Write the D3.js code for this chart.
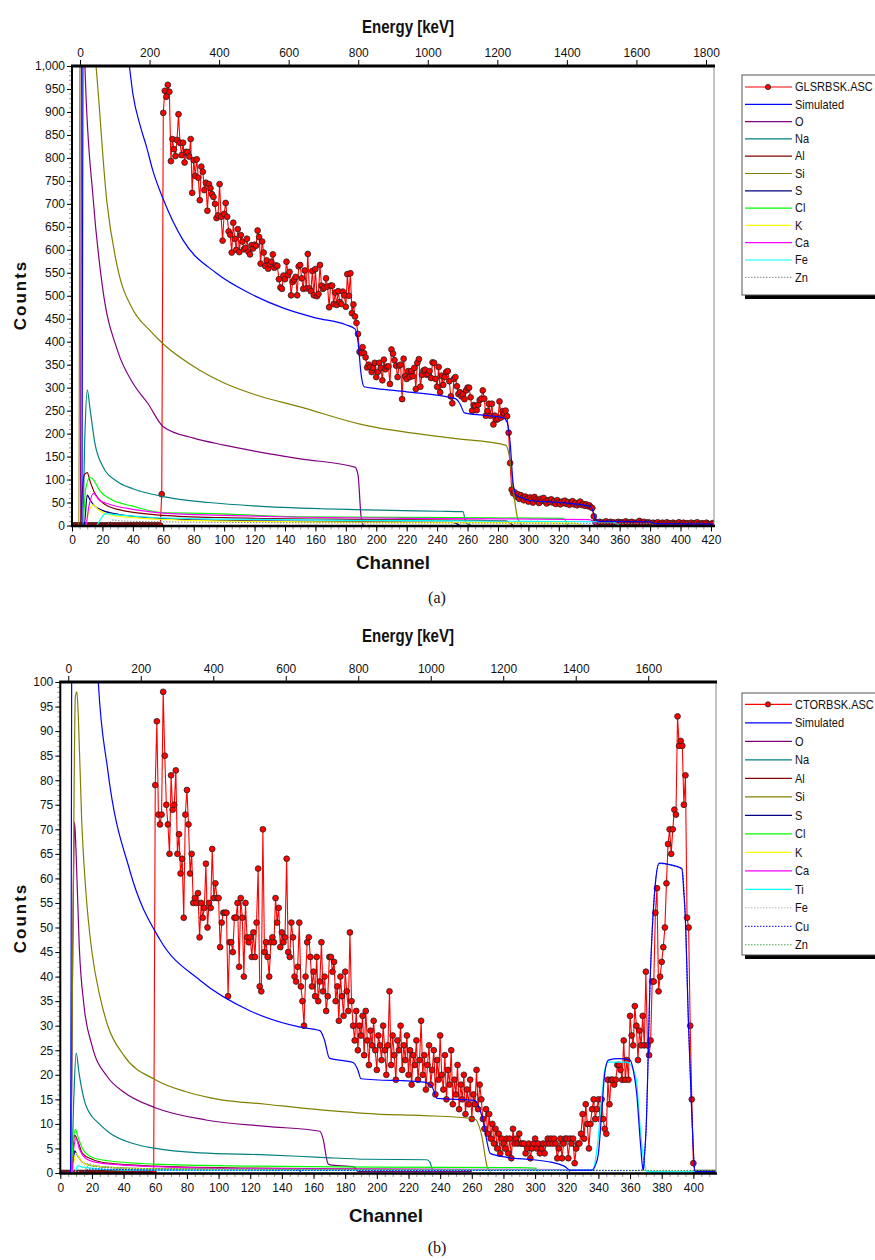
<!doctype html>
<html lang="en">
<head>
<meta charset="utf-8">
<title>RBS spectra - D3</title>
<style>
  body { margin: 0; background: #fff; }
  svg { display: block; }
  text { font-family: "Liberation Sans", Arial, sans-serif; fill: #111; }
</style>
</head>
<body>
<svg id="chart"></svg>
<script src="https://cdn.jsdelivr.net/npm/d3@7/dist/d3.min.js"></script>
<script>
// ---------- panel (a): GLSRBSK.ASC, counts per channel 0..422 ----------
var countsA = [
  0, 0, 0, 0, 0, 0, 0, 0, 0, 0,
  0, 0, 0, 0, 0, 0, 0, 0, 0, 0,
  0, 0, 0, 0, 0, 0, 0, 0, 0, 0,
  0, 0, 0, 0, 0, 0, 0, 0, 0, 0,
  0, 0, 0, 0, 0, 0, 0, 0, 0, 0,
  0, 0, 0, 0, 0, 0, 0, 0, 0, 68,
  898, 946, 933, 959, 944, 793, 841, 819, 804, 839,
  895, 833, 806, 833, 790, 813, 813, 803, 841, 724,
  795, 761, 797, 757, 708, 781, 770, 730, 746, 685,
  743, 734, 721, 715, 700, 669, 675, 743, 672, 620,
  678, 702, 672, 640, 633, 594, 659, 624, 600, 645,
  595, 632, 618, 601, 604, 624, 596, 590, 610, 603,
  611, 609, 642, 628, 570, 618, 594, 565, 577, 559,
  568, 574, 590, 561, 566, 565, 536, 518, 515, 544,
  536, 574, 545, 552, 501, 530, 535, 541, 501, 564,
  567, 538, 515, 555, 516, 591, 516, 510, 554, 501,
  558, 499, 504, 567, 522, 515, 518, 538, 520, 475,
  522, 522, 482, 507, 480, 510, 486, 482, 509, 501,
  476, 547, 500, 549, 462, 481, 455, 441, 417, 378,
  375, 388, 375, 366, 344, 350, 345, 334, 343, 354,
  323, 334, 354, 343, 316, 361, 340, 346, 346, 308,
  383, 374, 360, 348, 323, 348, 350, 275, 363, 325,
  319, 336, 323, 336, 325, 343, 297, 354, 362, 302,
  328, 337, 339, 328, 330, 336, 321, 355, 354, 319,
  302, 345, 290, 326, 306, 323, 334, 336, 314, 281,
  266, 319, 323, 303, 286, 290, 281, 286, 275, 294,
  300, 300, 279, 250, 262, 260, 251, 263, 273, 276,
  294, 276, 239, 249, 265, 239, 265, 220, 239, 230,
  232, 270, 235, 249, 244, 250, 238, 202, 136, 78,
  70, 72, 63, 68, 58, 66, 60, 55, 63, 58,
  52, 61, 56, 50, 62, 57, 53, 49, 58, 54,
  60, 52, 48, 55, 51, 57, 50, 53, 47, 55,
  50, 46, 52, 49, 54, 47, 51, 45, 50, 53,
  46, 49, 44, 48, 52, 45, 47, 43, 46, 42,
  44, 40, 38, 20, 8, 7, 5, 8, 6, 4,
  7, 9, 5, 6, 8, 5, 7, 4, 6, 8,
  5, 7, 6, 4, 9, 6, 5, 7, 8, 4,
  6, 5, 7, 10, 6, 5, 8, 4, 6, 7,
  5, 3, 6, 4, 5, 7, 3, 4, 6, 5,
  3, 7, 4, 5, 3, 6, 4, 2, 5, 7,
  3, 4, 6, 3, 5, 4, 2, 6, 3, 5,
  4, 7, 3, 2, 5, 4, 3, 6, 4, 2,
  3, 5, 4
];

// simulated and element curves of (a): [channel, counts]
var simA = [[0, 0], [6.5, 0], [7, 700], [7.5, 1400], [30, 1200], [37.7, 1000], [40, 940], [45, 868], [49, 824], [53, 774],
  [60, 710], [73, 621], [95, 549], [117, 505], [139, 473], [160, 452], [180, 437], [186, 428], [188, 400], [190, 330],
  [192, 302], [200, 298], [220, 291], [252, 276], [255, 265], [258, 245], [270, 240], [283, 235], [286, 225], [288, 180],
  [290, 90], [292, 66], [296, 60], [300, 55], [320, 50], [340, 42], [342, 36], [344, 15], [346, 9], [380, 8], [383, 4], [422, 3]];
var oA = [[0, 0], [5.5, 0], [6.5, 1300], [8.5, 1000], [14, 708], [20, 520], [30, 380], [40, 310], [50, 265], [60, 215],
  [80, 190], [100, 175], [120, 162], [150, 145], [186, 127], [188, 110], [190, 20], [191.5, 0]];
var naA = [[0, 0], [7, 0], [8.5, 200], [10, 295], [12, 250], [15, 180], [20, 130], [30, 95], [40, 80], [60, 63],
  [90, 50], [128, 41], [194, 34], [242, 31], [257, 30], [259, 5], [262, 2]];
var alA = [[0, 0], [5.5, 0], [6.5, 60], [8, 110], [10, 115], [12, 95], [15, 70], [20, 50], [30, 35], [60, 22],
  [100, 17], [200, 13], [270, 11], [285, 10], [290, 0]];
var siA = [[0, 0], [4.5, 0], [5.5, 1300], [15.8, 1000], [22.8, 708], [30, 560], [40, 470], [51, 425], [60, 395], [84, 338],
  [100, 310], [120, 285], [150, 258], [190, 220], [250, 190], [285, 175], [288, 140], [290, 80], [293, 15], [296, 0]];
var sA = [[0, 0], [8, 0], [10, 66], [12, 55], [15, 42], [20, 33], [31, 24], [60, 15], [100, 11], [200, 8], [250, 7], [255, 0]];
var clA = [[0, 0], [7, 0], [9, 80], [12, 105], [15, 95], [18, 77], [25, 58], [40, 42], [60, 28], [86, 26.5],
  [150, 19], [250, 17], [323, 15.6], [326, 0]];
var kA = [[0, 0], [9, 0], [11, 30], [14, 45], [17, 35], [22, 26], [40, 17], [80, 11], [150, 8], [300, 6], [330, 5], [335, 0]];
var caA = [[0, 0], [9, 0], [11, 40], [14, 70], [18, 55], [23, 48], [40, 35], [60, 27], [100, 22], [150, 18], [250, 15],
  [340, 13], [345, 0]];
var feA = [[0, 0], [16, 0], [19, 15], [22, 26], [30, 23], [50, 18], [100, 14], [200, 11], [300, 9], [355, 8], [360, 0]];
var znA = [[0, 0], [22, 0], [27, 12], [32, 10], [60, 8], [150, 6], [300, 5], [380, 4], [385, 0]];

var legendA = ['GLSRBSK.ASC', 'Simulated', 'O', 'Na', 'Al', 'Si', 'S', 'Cl', 'K', 'Ca', 'Fe', 'Zn'];

// ---------- panel (b): CTORBSK.ASC, counts per channel 0..414 ----------
var countsB = [
  0, 0, 0, 0, 0, 0, 0, 0, 0, 0,
  0, 0, 0, 0, 0, 0, 0, 0, 0, 0,
  0, 0, 0, 0, 0, 0, 0, 0, 0, 0,
  0, 0, 0, 0, 0, 0, 0, 0, 0, 0,
  0, 0, 0, 0, 0, 0, 0, 0, 0, 0,
  0, 0, 0, 0, 0, 0, 0, 0, 0, 0,
  79, 92, 73, 71, 73, 98, 85, 75, 71, 65,
  81, 74, 75, 82, 65, 69, 61, 64, 52, 73,
  78, 71, 61, 65, 55, 56, 55, 57, 48, 55,
  52, 54, 63, 50, 55, 54, 66, 56, 59, 56,
  56, 46, 51, 53, 53, 53, 36, 47, 47, 45,
  52, 52, 55, 42, 56, 52, 40, 55, 48, 47,
  48, 44, 49, 44, 51, 62, 38, 37, 70, 45,
  47, 44, 40, 47, 48, 47, 56, 51, 54, 46,
  49, 47, 48, 64, 45, 44, 51, 48, 40, 39,
  42, 51, 38, 35, 30, 40, 47, 48, 44, 38,
  41, 36, 44, 35, 39, 47, 37, 40, 33, 36,
  44, 44, 41, 43, 35, 38, 31, 40, 36, 32,
  41, 37, 33, 49, 35, 30, 27, 33, 25, 30,
  28, 32, 24, 33, 27, 22, 29, 26, 31, 25,
  21, 28, 26, 23, 30, 25, 20, 26, 37, 22,
  28, 24, 19, 27, 25, 30, 21, 26, 23, 28,
  20, 25, 18, 24, 22, 27, 19, 23, 31, 20,
  24, 17, 22, 26, 18, 21, 25, 16, 23, 19,
  28, 20, 17, 24, 15, 21, 18, 25, 14, 19,
  16, 22, 13, 18, 15, 20, 12, 17, 14, 19,
  11, 16, 14, 21, 13, 18, 15, 11, 9, 13,
  8, 12, 7, 10, 6, 9, 5, 8, 4, 7,
  6, 5, 7, 4, 7, 3, 9, 6, 7, 6,
  8, 6, 6, 6, 4, 5, 6, 3, 5, 6,
  7, 5, 6, 4, 5, 6, 4, 6, 7, 6,
  7, 6, 7, 6, 3, 5, 7, 3, 6, 7,
  7, 3, 7, 6, 7, 2, 5, 6, 6, 8,
  12, 7, 14, 10, 5, 10, 13, 15, 11, 13,
  15, 11, 15, 11, 9, 8, 19, 14, 19, 19,
  18, 19, 22, 22, 21, 19, 27, 19, 23, 19,
  32, 28, 26, 34, 30, 23, 29, 26, 32, 26,
  41, 26, 24, 27, 39, 39, 53, 58, 37, 40,
  43, 46, 50, 59, 67, 70, 65, 70, 74, 73,
  93, 87, 88, 87, 75, 81, 52, 50, 30, 15,
  2, 0, 0, 0, 0, 0, 0, 0, 0, 0,
  0, 0, 0, 0, 0
];

var simB = [[0, 0], [6.5, 0], [7, 70], [7.5, 140], [20, 130], [24, 100], [30, 82], [44, 61.5], [63, 47.5], [88, 39.3],
  [120, 33], [151.6, 29.7], [164, 29], [167, 27], [170, 23.4], [185, 22.5], [188, 21], [190, 19.2], [230, 18.5], [235, 17.5],
  [238, 15.2], [262, 14.8], [265, 13], [267.3, 10.5], [269.4, 6.7], [271.6, 4], [282, 3.2], [299, 2.7], [310, 2.2], [318.9, 1.3],
  [322, 0.6], [336, 0.6], [338, 1.5], [340, 4], [342, 12], [344, 20.3], [346.3, 23], [352.7, 23.3], [360, 23], [362, 21],
  [364.2, 16.2], [366.4, 6.7], [368, 1], [368.5, 0.6], [369, 3], [370.1, 8.7], [372.7, 39.3], [375.8, 58.3], [378.4, 63.1],
  [385, 62.8], [392.7, 62], [394, 57], [394.8, 52.9], [396.9, 30.5], [399, 12.1], [401.1, 0.3], [414, 0.3]];
var oB = [[0, 0], [6.5, 0], [8, 50], [9, 71.5], [10, 65], [12, 46], [15, 34], [20, 26], [30, 19.5], [40, 16.5], [60, 13.3],
  [92, 10.8], [130, 9.5], [164, 8.5], [166, 7], [169, 2], [170, 1.7], [186, 1.2], [188, 0.3], [260, 0.3]];
var naB = [[0, 0], [7, 0], [8.5, 15], [10, 24.4], [12, 20], [15, 15], [20, 11.5], [23, 10.5], [31.4, 8.1], [46, 6], [60, 5],
  [88, 4.1], [130, 3.7], [164, 3.2], [194, 2.8], [231.5, 2.7], [233.5, 2.2], [235, 0.8], [236, 0.3]];
var alB = [[0, 0], [7, 0], [8, 5], [9, 7.7], [11, 6.5], [14, 4], [20, 2.8], [30, 2], [60, 1.4], [120, 1], [200, 0.8], [260, 0.7]];
var siB = [[0, 0], [6.5, 0], [8, 50], [9.5, 97], [10.5, 98], [11.5, 92], [13.5, 72], [16, 58], [20, 45], [25, 36], [30, 30],
  [40, 24], [60, 19], [80, 16.5], [100, 15], [130, 14], [160, 13], [200, 12], [230, 11.7], [262, 11], [266, 8], [270, 1], [272, 0.3]];
var sB = [[0, 0], [7, 0], [8.5, 3], [9, 4.5], [11, 3.5], [14, 2.2], [20, 1.5], [40, 1], [80, 0.8], [150, 0.7], [152, 0.3]];
var clB = [[0, 0], [7, 0], [8, 6], [9.5, 8.9], [11, 7.5], [14, 5], [20, 3.2], [30, 2.5], [60, 1.8], [120, 1.4], [200, 1.2],
  [290, 1.1], [300, 1], [302, 0.3]];
var kB = [[0, 0], [7.5, 0], [9, 3], [10, 4], [12, 3], [15, 2], [20, 1.5], [40, 1], [80, 0.8], [120, 0.7], [150, 0.6]];
var caB = [[0, 0], [7.5, 0], [8.5, 5], [10, 7.1], [12, 5], [16, 3], [22, 2.2], [40, 1.6], [60, 1.3], [117, 0.9], [200, 0.8],
  [320, 0.7], [322, 0.3]];
var tiB = [[0, 0], [9, 0], [11, 1.5], [14, 1.2], [40, 0.6], [336, 0.6], [337, 1], [339.5, 6], [342, 15], [344, 21], [346, 22.6],
  [358, 22.6], [362, 21], [364, 18.9], [366, 10.8], [368, 4], [371, 0.3], [414, 0.3]];
var feB = [[0, 0], [10, 0], [14, 1.2], [18, 2], [22, 1.6], [40, 1], [100, 0.8], [300, 0.6], [414, 0.4]];
var cuB = [[0, 0], [14, 0], [18, 0.8], [60, 0.6], [360, 0.5], [368, 0.6], [369, 3], [370.1, 8.7], [372.7, 39.3], [375.8, 58.3],
  [378.4, 63], [392.7, 62], [394.8, 52.9], [396.9, 30.5], [399, 12.1], [401.1, 0.3], [414, 0.2]];
var znB = [[0, 0], [14, 0], [18, 1.5], [25, 1.2], [60, 0.9], [200, 0.7], [414, 0.5]];

var legendB = ['CTORBSK.ASC', 'Simulated', 'O', 'Na', 'Al', 'Si', 'S', 'Cl', 'K', 'Ca', 'Ti', 'Fe', 'Cu', 'Zn'];

// ---------- drawing ----------
var W = 875, H = 1260;
var svg = d3.select('#chart').attr('width', W).attr('height', H);

var colors = {
  data: '#ff0000', sim: '#0000ff', O: '#800080', Na: '#008080', Al: '#800000', Si: '#808000',
  S: '#000080', Cl: '#00ff00', K: '#ffff00', Ca: '#ff00ff', Fe: '#00ffff', Ti: '#00ffff'
};

var panels = [
  {
    id: 'a', left: 72, right: 714, top: 66, bottom: 525.5,
    chMax: 422, yMax: 1000, eMin: -23, eMax: 1823, eMaxTick: 1800,
    yMajor: 50, yMinor: 10, yFormat: d3.format(','),
    counts: countsA, sim: simA,
    curves: [
      { name: 'O', data: oA, color: colors.O },
      { name: 'Na', data: naA, color: colors.Na },
      { name: 'Al', data: alA, color: colors.Al },
      { name: 'Si', data: siA, color: colors.Si },
      { name: 'S', data: sA, color: colors.S },
      { name: 'Cl', data: clA, color: colors.Cl },
      { name: 'K', data: kA, color: colors.K },
      { name: 'Ca', data: caA, color: colors.Ca },
      { name: 'Fe', data: feA, color: colors.Fe },
      { name: 'Zn', data: znA, color: '#808080', dash: '1.5,1.5' }
    ],
    legend: legendA, legTop: 75, legRow: 17.3, legFirst: 87, legBottom: 295,
    titleY: 33, chanX: 393, chanY: 569, countsY: 295, tagY: 603, tag: '(a)'
  },
  {
    id: 'b', left: 60.3, right: 716, top: 682, bottom: 1173,
    chMax: 414.3, yMax: 100, eMin: -22, eMax: 1787, eMaxTick: 1600,
    yMajor: 5, yMinor: 1, yFormat: d3.format('d'),
    counts: countsB, sim: simB,
    curves: [
      { name: 'O', data: oB, color: colors.O },
      { name: 'Na', data: naB, color: colors.Na },
      { name: 'Al', data: alB, color: colors.Al },
      { name: 'Si', data: siB, color: colors.Si },
      { name: 'S', data: sB, color: colors.S },
      { name: 'Cl', data: clB, color: colors.Cl },
      { name: 'K', data: kB, color: colors.K },
      { name: 'Ca', data: caB, color: colors.Ca },
      { name: 'Ti', data: tiB, color: colors.Ti },
      { name: 'Fe', data: feB, color: '#b8b8b8', dash: '1.5,1.5' },
      { name: 'Cu', data: cuB, color: '#0000ff', dash: '1.5,1.5' },
      { name: 'Zn', data: znB, color: '#449944', dash: '1.5,1.5' }
    ],
    legend: legendB, legTop: 693, legRow: 18.5, legFirst: 704.3, legBottom: 955,
    titleY: 642, chanX: 386, chanY: 1222, countsY: 918, tagY: 1253, tag: '(b)'
  }
];

panels.forEach(drawPanel);

function drawPanel(p) {
  var x = d3.scaleLinear().domain([0, p.chMax]).range([p.left, p.right]);
  var y = d3.scaleLinear().domain([0, p.yMax]).range([p.bottom, p.top]);
  var e = d3.scaleLinear().domain([p.eMin, p.eMax]).range([p.left, p.right]);

  var clipId = 'clip-' + p.id;
  svg.append('clipPath').attr('id', clipId)
    .append('rect')
    .attr('x', p.left).attr('y', p.top)
    .attr('width', p.right - p.left).attr('height', p.bottom - p.top);

  var plot = svg.append('g').attr('clip-path', 'url(#' + clipId + ')');
  var line = d3.line().x(function (d) { return x(d[0]); }).y(function (d) { return y(d[1]); });
  var smooth = d3.line().curve(d3.curveMonotoneX)
    .x(function (d) { return x(d[0]); }).y(function (d) { return y(d[1]); });

  // measured spectrum
  var pts = p.counts.map(function (c, i) { return [i, c]; });
  plot.append('path').datum(pts)
    .attr('fill', 'none').attr('stroke', colors.data).attr('stroke-width', 1.1)
    .attr('d', line);
  plot.selectAll('circle.pt').data(pts).enter()
    .append('circle').attr('class', 'pt')
    .attr('cx', function (d) { return x(d[0]); })
    .attr('cy', function (d) { return y(d[1]); })
    .attr('r', 2.9)
    .attr('fill', '#ff0000').attr('stroke', '#222').attr('stroke-width', 0.8);

  // element contributions
  p.curves.forEach(function (cv) {
    plot.append('path').datum(cv.data)
      .attr('fill', 'none').attr('stroke', cv.color)
      .attr('stroke-width', cv.dash ? 1 : 1.2)
      .attr('stroke-dasharray', cv.dash || null)
      .attr('d', smooth);
  });

  // simulated
  plot.append('path').datum(p.sim)
    .attr('fill', 'none').attr('stroke', colors.sim).attr('stroke-width', 1.2)
    .attr('d', smooth);

  // axes: minor ticks
  svg.append('g').attr('transform', 'translate(' + p.left + ',0)')
    .call(d3.axisLeft(y).tickValues(d3.range(0, p.yMax + 0.001, p.yMinor)).tickSize(3).tickFormat(''))
    .call(styleMinor);
  svg.append('g').attr('transform', 'translate(0,' + p.bottom + ')')
    .call(d3.axisBottom(x).tickValues(d3.range(0, p.chMax, 5)).tickSize(4).tickFormat(''))
    .call(styleMinor);

  // major ticks
  svg.append('g').attr('transform', 'translate(' + p.left + ',0)')
    .call(d3.axisLeft(y).tickValues(d3.range(0, p.yMax + 0.001, p.yMajor)).tickSize(5).tickPadding(2).tickFormat(p.yFormat))
    .call(styleMajor);
  svg.append('g').attr('transform', 'translate(0,' + p.bottom + ')')
    .call(d3.axisBottom(x).tickValues(d3.range(0, p.chMax, 20)).tickSize(6).tickPadding(4).tickFormat(d3.format('d')))
    .call(styleMajor);
  svg.append('g').attr('transform', 'translate(0,' + p.top + ')')
    .call(d3.axisTop(e).tickValues(d3.range(0, p.eMaxTick + 1, 200)).tickSize(6).tickPadding(3).tickFormat(d3.format('d')))
    .call(styleMajor);

  // frame
  svg.append('line').attr('x1', p.right).attr('x2', p.right).attr('y1', p.top).attr('y2', p.bottom)
    .attr('stroke', '#888').attr('stroke-width', 1);
  svg.append('line').attr('x1', p.left).attr('x2', p.left).attr('y1', p.top - 1).attr('y2', p.bottom + 1)
    .attr('stroke', '#000').attr('stroke-width', 2);
  svg.append('line').attr('x1', p.left - 1).attr('x2', p.right + 1).attr('y1', p.top).attr('y2', p.top)
    .attr('stroke', '#000').attr('stroke-width', 2.8);
  svg.append('line').attr('x1', p.left - 1).attr('x2', p.right + 1).attr('y1', p.bottom + 0.5).attr('y2', p.bottom + 0.5)
    .attr('stroke', '#000').attr('stroke-width', 2.6);

  // titles
  svg.append('text').attr('x', 408).attr('y', p.titleY)
    .attr('text-anchor', 'middle').attr('font-size', 19).attr('font-weight', 'bold')
    .attr('textLength', 92).attr('lengthAdjust', 'spacingAndGlyphs')
    .text('Energy [keV]');
  svg.append('text').attr('x', p.chanX).attr('y', p.chanY)
    .attr('text-anchor', 'middle').attr('font-size', 19).attr('font-weight', 'bold')
    .attr('textLength', 74).attr('lengthAdjust', 'spacingAndGlyphs')
    .text('Channel');
  svg.append('text').attr('transform', 'translate(26,' + p.countsY + ') rotate(-90)')
    .attr('text-anchor', 'middle').attr('font-size', 17).attr('font-weight', 'bold')
    .attr('letter-spacing', 2)
    .text('Counts');
  svg.append('text').attr('x', 437).attr('y', p.tagY)
    .attr('text-anchor', 'middle').attr('font-size', 16)
    .style('font-family', '"Liberation Serif", "Times New Roman", serif')
    .text(p.tag);

  drawLegend(p);
}

function styleMinor(g) {
  g.select('.domain').remove();
  g.selectAll('line').attr('stroke', '#999');
}

function styleMajor(g) {
  g.select('.domain').remove();
  g.selectAll('line').attr('stroke', '#000');
  g.selectAll('text').attr('font-size', 12)
    .attr('font-family', '"Liberation Sans", Arial, sans-serif').attr('fill', '#222');
}

function drawLegend(p) {
  var lg = svg.append('g');
  var x0 = 742, x1 = 878;
  lg.append('rect').attr('x', x0 + 3).attr('y', p.legBottom).attr('width', x1 - x0).attr('height', 4).attr('fill', '#000');
  lg.append('rect').attr('x', x0).attr('y', p.legTop).attr('width', x1 - x0).attr('height', p.legBottom - p.legTop)
    .attr('fill', '#fff').attr('stroke', '#555').attr('stroke-width', 1);

  var styles = [{ color: colors.data, marker: true }, { color: colors.sim }];
  p.curves.forEach(function (cv) { styles.push(cv); });

  p.legend.forEach(function (name, i) {
    var yy = p.legFirst + i * p.legRow;
    var st = styles[i];
    lg.append('line').attr('x1', 745).attr('x2', 792).attr('y1', yy).attr('y2', yy)
      .attr('stroke', st.color).attr('stroke-width', st.dash ? 1 : 1.2)
      .attr('stroke-dasharray', st.dash || null);
    if (st.marker) {
      lg.append('circle').attr('cx', 768).attr('cy', yy).attr('r', 2.6)
        .attr('fill', '#ff0000').attr('stroke', '#222').attr('stroke-width', 0.8);
    }
    lg.append('text').attr('x', 795).attr('y', yy + 4.3).attr('font-size', 12)
      .attr('transform', 'translate(' + (795 * 0.08) + ',0) scale(0.92,1)')
      .text(name);
  });
}
</script>
</body>
</html>
